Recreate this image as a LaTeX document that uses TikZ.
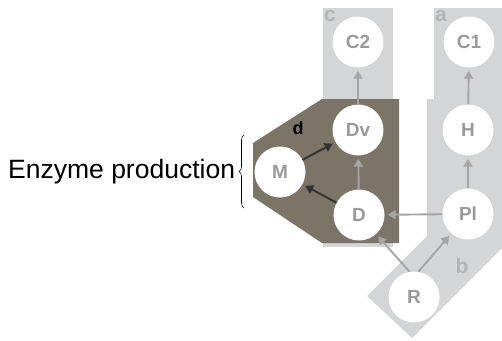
\documentclass[tikz,border=0pt]{standalone}
\usepackage{fontspec}
\setmainfont{Liberation Sans}
\usetikzlibrary{arrows.meta,decorations.pathreplacing}
\definecolor{bandgray}{HTML}{D4D5D7}
\definecolor{boxbrown}{HTML}{7B7467}
\definecolor{arrowgray}{HTML}{A5A5A5}
\definecolor{textgray}{HTML}{9A9A9A}
\definecolor{labelgray}{HTML}{B3B4B6}
\definecolor{darkarrow}{HTML}{333333}
\begin{document}
\begin{tikzpicture}[x=1pt,y=-1pt,
  circ/.style={circle,fill=white,minimum size=51pt,inner sep=0pt,
    text=textgray,font=\bfseries\fontsize{19}{21}\selectfont},
  garrow/.style={draw=arrowgray,line width=1.9pt,-{Triangle[length=8pt,width=9pt]},shorten >=3pt},
  darrowstyle/.style={draw=darkarrow,line width=1.9pt,-{Triangle[length=8pt,width=9pt]},shorten >=3pt},
  bandlabel/.style={text=labelgray,font=\bfseries\fontsize{21}{23}\selectfont,inner sep=0pt}]
\useasboundingbox (0,0) rectangle (502,340);
% background bands
\fill[bandgray] (323,8) rectangle (393,247);
\fill[bandgray] (434,8) -- (502,8) -- (502,248) -- (412,338) -- (367,296)
  -- (427,236) -- (427,99) -- (434,99) -- cycle;
\fill[boxbrown] (322,99) -- (399,99) -- (399,243) -- (322,243) -- (253,197)
  -- (253,143) -- cycle;
% band labels
\node[bandlabel] (lc) at (330,16) {c};
\node[bandlabel] (la) at (441,16) {a};
\node[bandlabel] (lb) at (462,266) {b};
\node[text=black,font=\bfseries\fontsize{18}{20}\selectfont,inner sep=0pt] (ld) at (298,128) {d};
% nodes
\node[circ] (C2) at (358,42) {C2};
\node[circ] (C1) at (469,42) {C1};
\node[circ] (Dv) at (358,130) {Dv};
\node[circ] (H) at (468,130) {H};
\node[circ] (M) at (280,172) {M};
\node[circ] (D) at (359,215) {D};
\node[circ] (Pl) at (468,214) {Pl};
\node[circ] (R) at (414,297) {R};
% connectors
\draw[garrow] (Dv) -- (C2);
\draw[garrow] (H) -- (C1);
\draw[garrow] (Pl) -- (H);
\draw[garrow] (D) -- (Dv);
\draw[garrow] (Pl) -- (D);
\draw[garrow] (R.100) -- (D);
\draw[garrow] (R.80) -- (Pl);
\draw[darrowstyle] (M) -- (Dv);
\draw[darrowstyle] (D) -- (M);
% label and brace
\node[anchor=base west,inner sep=0pt,font=\fontsize{26.5}{30}\selectfont] (ep) at (8,178) {Enzyme production};
\draw[decorate,decoration={brace,amplitude=5pt},line width=0.6pt] (244,208) -- (244,135);
\end{tikzpicture}
\end{document}
